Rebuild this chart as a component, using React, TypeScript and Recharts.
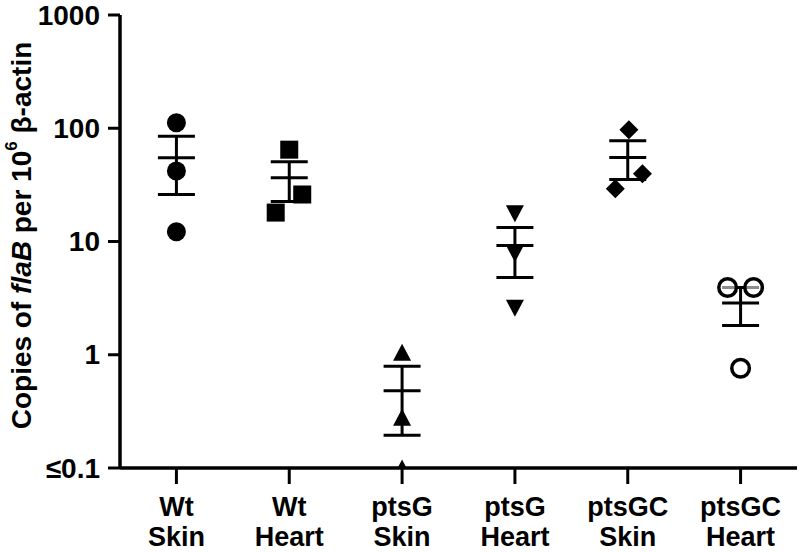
import React from 'react';
import { ComposedChart, Scatter, XAxis, YAxis, ErrorBar } from 'recharts';

// Categories (two-line tick labels)
const categoryTop = ['Wt', 'Wt', 'ptsG', 'ptsG', 'ptsGC', 'ptsGC'];
const categoryBottom = ['Skin', 'Heart', 'Skin', 'Heart', 'Skin', 'Heart'];

// Individual values (copies of flaB per 10^6 beta-actin)
const wtSkin = [112, 42, 12.2];
const wtHeart = [64.7, 26, 18];
const ptsGSkin = [1.05, 0.28, 0.1];
const ptsGHeart = [17.6, 7.8, 2.57];
const ptsGCSkin = [97, 39.7, 29.3];
const ptsGCHeart = [3.93, 3.93, 0.76];

// Horizontal scatter offsets (in category units)
const wtSkinJitter = [0, 0, 0];
const wtHeartJitter = [0, 0.115, -0.12];
const ptsGSkinJitter = [0, 0, 0];
const ptsGHeartJitter = [0, 0, 0];
const ptsGCSkinJitter = [0.01, 0.13, -0.11];
const ptsGCHeartJitter = [-0.115, 0.115, 0];

// Mean and SEM bounds
const means = [55, 36.5, 0.48, 9.2, 55.3, 2.87];
const semHigh = [85, 50.7, 0.79, 13.3, 77.6, 3.93];
const semLow = [26, 22.5, 0.195, 4.8, 35.2, 1.81];

// Y ticks
const yTicks = [0.1, 1, 10, 100, 1000];
const yTickLabels = ['≤0.1', '1', '10', '100', '1000'];

const FONT = '"Liberation Sans", Arial, Helvetica, sans-serif';

const toPoints = (vals: number[], jit: number[], idx: number) =>
  vals.map((v, k) => ({ x: idx + jit[k], y: v }));

const summary = means.map((m, i) => ({
  x: i,
  y: m,
  err: [m - semLow[i], semHigh[i] - m],
}));

const black = '#000';

const CircleShape = (p: any) => <circle cx={p.cx} cy={p.cy} r={9.5} fill={black} />;
const SquareShape = (p: any) => <rect x={p.cx - 9} y={p.cy - 9} width={18} height={18} fill={black} />;
const TriUpShape = (p: any) => (
  <path d={`M${p.cx},${p.cy - 8.5} L${p.cx + 9},${p.cy + 8.5} L${p.cx - 9},${p.cy + 8.5} Z`} fill={black} />
);
const TriDownShape = (p: any) => (
  <path d={`M${p.cx - 9},${p.cy - 8.5} L${p.cx + 9},${p.cy - 8.5} L${p.cx},${p.cy + 8.5} Z`} fill={black} />
);
const DiamondShape = (p: any) => (
  <path d={`M${p.cx},${p.cy - 9.5} L${p.cx + 9.5},${p.cy} L${p.cx},${p.cy + 9.5} L${p.cx - 9.5},${p.cy} Z`} fill={black} />
);
const OpenCircleShape = (p: any) => (
  <circle cx={p.cx} cy={p.cy} r={8.8} fill="rgba(255,255,255,0.55)" stroke={black} strokeWidth={3.5} />
);
const MeanShape = (p: any) => (
  <line x1={p.cx - 18.5} x2={p.cx + 18.5} y1={p.cy} y2={p.cy} stroke={black} strokeWidth={3} />
);

const XTick = (props: any) => {
  const { x, y, payload } = props;
  const i = payload.value as number;
  return (
    <g transform={`translate(${x},${y})`}>
      <text textAnchor="middle" fontFamily={FONT} fontWeight="bold" fontSize={27} fill={black}>
        <tspan x={0} y={32}>{categoryTop[i]}</tspan>
        <tspan x={0} y={62}>{categoryBottom[i]}</tspan>
      </text>
    </g>
  );
};

const YTick = (props: any) => {
  const { x, y, payload } = props;
  const idx = yTicks.indexOf(payload.value);
  return (
    <text x={x} y={y} textAnchor="end" dominantBaseline="central" fontFamily={FONT} fontWeight="bold" fontSize={28} fill={black}>
      {yTickLabels[idx]}
    </text>
  );
};

const YLabel = (props: any) => {
  const vb = props.viewBox || { x: 0, y: 15, width: 120, height: 453 };
  const cx = 21;
  const cy = vb.y + vb.height / 2 - 6;
  return (
    <text
      x={cx}
      y={cy}
      transform={`rotate(-90 ${cx} ${cy})`}
      textAnchor="middle"
      dominantBaseline="central"
      fontFamily={FONT}
      fontWeight="bold"
      fontSize={28}
      fill={black}
    >
      Copies of <tspan fontStyle="italic">flaB</tspan> per 10
      <tspan dy={-10} fontSize={17}>6</tspan>
      <tspan dy={10}> β-actin</tspan>
    </text>
  );
};

export default function App() {
  return (
    <div style={{ position: 'absolute', left: 0, top: 0, width: 800, height: 552, background: '#fff' }}>
      <ComposedChart width={800} height={552} margin={{ top: 15, right: 3, bottom: 0, left: 0 }}>
        <XAxis
          type="number"
          dataKey="x"
          domain={[-0.5, 5.5]}
          ticks={[0, 1, 2, 3, 4, 5]}
          interval={0}
          allowDataOverflow
          height={84}
          tickSize={16}
          tickMargin={0}
          axisLine={{ stroke: black, strokeWidth: 3.5 }}
          tickLine={{ stroke: black, strokeWidth: 3 }}
          tick={<XTick />}
        />
        <YAxis
          type="number"
          dataKey="y"
          scale="log"
          domain={[0.1, 1000]}
          ticks={yTicks}
          interval={0}
          allowDataOverflow
          width={120}
          tickSize={12}
          tickMargin={8}
          axisLine={{ stroke: black, strokeWidth: 3.5 }}
          tickLine={{ stroke: black, strokeWidth: 3 }}
          tick={<YTick />}
          label={{ content: <YLabel /> }}
        />
        <Scatter data={summary} shape={MeanShape} isAnimationActive={false}>
          <ErrorBar dataKey="err" direction="y" width={18.5} stroke={black} strokeWidth={3} isAnimationActive={false} />
        </Scatter>
        <Scatter data={toPoints(wtSkin, wtSkinJitter, 0)} shape={CircleShape} isAnimationActive={false} />
        <Scatter data={toPoints(wtHeart, wtHeartJitter, 1)} shape={SquareShape} isAnimationActive={false} />
        <Scatter data={toPoints(ptsGSkin, ptsGSkinJitter, 2)} shape={TriUpShape} isAnimationActive={false} />
        <Scatter data={toPoints(ptsGHeart, ptsGHeartJitter, 3)} shape={TriDownShape} isAnimationActive={false} />
        <Scatter data={toPoints(ptsGCSkin, ptsGCSkinJitter, 4)} shape={DiamondShape} isAnimationActive={false} />
        <Scatter data={toPoints(ptsGCHeart, ptsGCHeartJitter, 5)} shape={OpenCircleShape} isAnimationActive={false} />
      </ComposedChart>
    </div>
  );
}
